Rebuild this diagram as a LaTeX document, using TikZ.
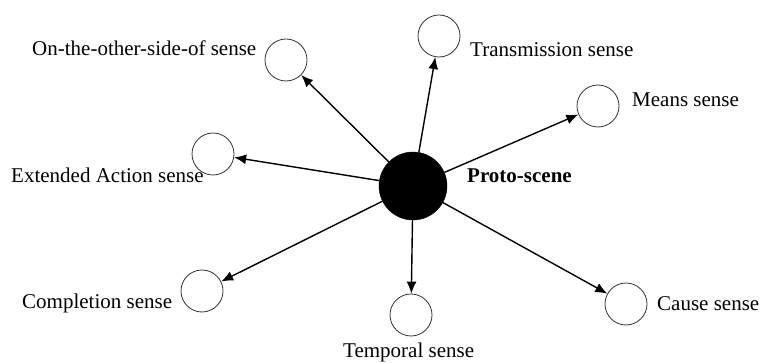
\documentclass[tikz,border=0pt]{standalone}
\usepackage{fontspec}
\setmainfont{Liberation Serif}
\usetikzlibrary{arrows.meta}
\begin{document}
\begin{tikzpicture}[x=1pt,y=-1pt,
  sense/.style={circle,draw=black!80,line width=0.8pt,minimum size=42pt,inner sep=0pt},
  proto/.style={circle,fill=black,draw=black,minimum size=68pt,inner sep=0pt},
  lbl/.style={anchor=base west,inner sep=0pt,font=\fontsize{21}{24}\selectfont},
  arr/.style={line width=1.4pt,-{Latex[length=12pt,width=10pt]}}]
\useasboundingbox (0,0) rectangle (762,363);
\node[proto] (P) at (413,186) {};
\node[sense] (O) at (286,60) {};
\node[sense] (E) at (213,154) {};
\node[sense] (T) at (439,36) {};
\node[sense] (M) at (598,106) {};
\node[sense] (C) at (202,291) {};
\node[sense] (Te) at (411,315) {};
\node[sense] (Ca) at (626,304) {};
\node[lbl] (lO) at (32,56) {On-the-other-side-of sense};
\node[lbl] (lE) at (11,183) {Extended Action sense};
\node[lbl] (lT) at (470,57) {Transmission sense};
\node[lbl] (lM) at (632,107) {Means sense};
\node[lbl,font=\fontsize{21}{24}\selectfont\bfseries] (lP) at (467,183) {Proto-scene};
\node[lbl] (lC) at (22,308) {Completion sense};
\node[lbl] (lTe) at (343,357) {Temporal sense};
\node[lbl] (lCa) at (657,310) {Cause sense};
\foreach \t in {O,E,T,M,C,Te,Ca} \draw[arr] (P) -- (\t);
\end{tikzpicture}
\end{document}
